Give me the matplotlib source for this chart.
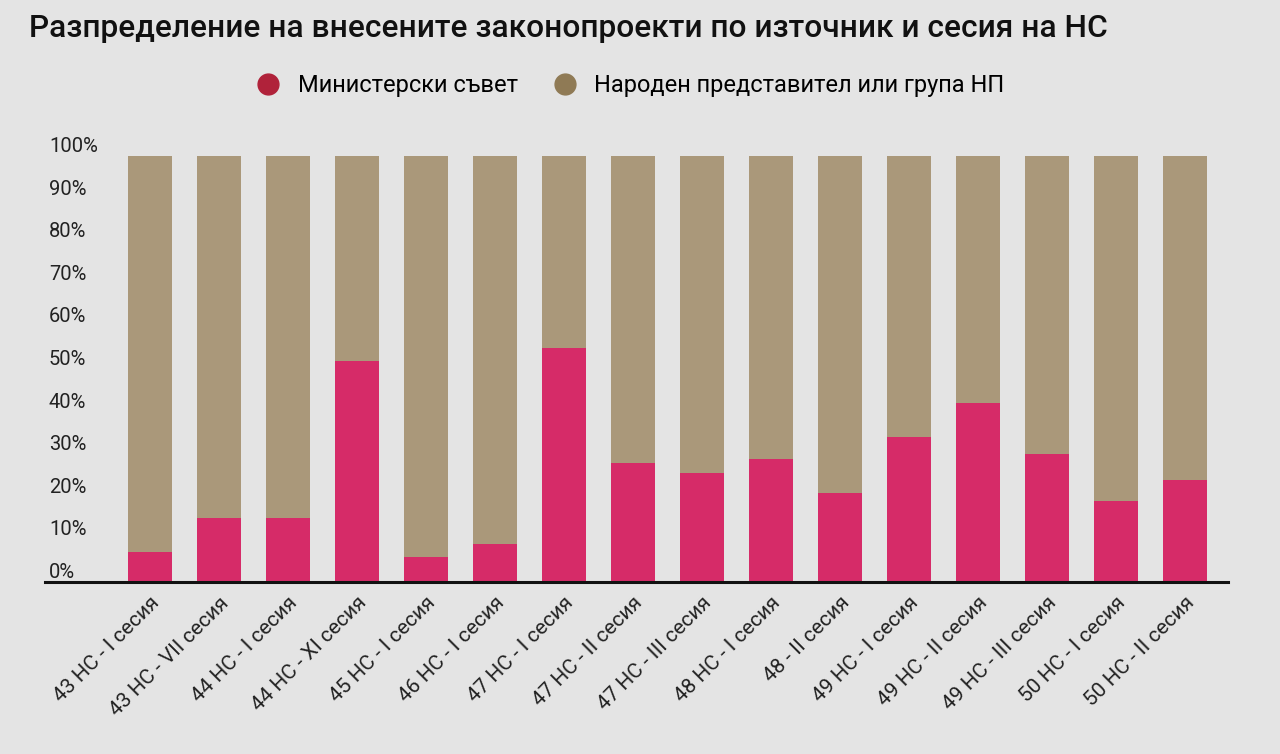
import matplotlib
matplotlib.use("Agg")
import matplotlib.pyplot as plt
from matplotlib.lines import Line2D
import numpy as np

plt.rcParams["font.family"] = ["Roboto", "DejaVu Sans"]

SESSIONS = ["43 НС - I сесия", "43 НС - VII сесия", "44 НС - I сесия", "44 НС - XI сесия",
            "45 НС - I сесия", "46 НС - I сесия", "47 НС - I сесия", "47 НС - II сесия",
            "47 НС - III сесия", "48 НС - I сесия", "48 - II сесия", "49 НС - I сесия",
            "49 НС - II сесия", "49 НС - III сесия", "50 НС - I сесия", "50 НС - II сесия"]
# share of bills from the Council of Ministers (%)
MINISTERS = [7, 15, 15, 52, 6, 9, 55, 28, 25.5, 29, 21, 34, 42, 30, 19, 24]
MP = [100 - v for v in MINISTERS]

SERIES_NAMES = ["Министерски съвет", "Народен представител или група НП"]
COLORS = ["#d62b68", "#aa987a"]
LEGEND_COLORS = ["#b0223a", "#8f7a55"]
BG = "#e4e4e4"

fig = plt.figure(figsize=(12.8, 7.54), dpi=100, facecolor=BG)
ax = fig.add_axes([0.035, 0.228, 0.924, 0.565], facecolor=BG)

x = np.arange(len(SESSIONS))
ax.bar(x, MINISTERS, 0.64, color=COLORS[0], zorder=2)
ax.bar(x, MP, 0.64, bottom=MINISTERS, color=COLORS[1], zorder=2)

ax.set_xlim(-1.52, len(SESSIONS) - 0.38)
ax.set_ylim(0, 100)
ax.set_yticks(np.arange(0, 101, 10))
ax.set_yticklabels([f"{v}%" for v in range(0, 101, 10)], fontsize=14.5, color="#222")
for lbl in ax.get_yticklabels():
    lbl.set_horizontalalignment("left")
    lbl.set_verticalalignment("bottom")
ax.tick_params(axis="y", length=0, pad=-3)

ax.set_xticks(x)
ax.set_xticklabels(SESSIONS, rotation=45, ha="right", rotation_mode="anchor",
                   fontsize=15, color="#222")
ax.tick_params(axis="x", length=0, pad=8)

for s in ["top", "right", "left"]:
    ax.spines[s].set_visible(False)
ax.spines["bottom"].set_linewidth(2.2)
ax.spines["bottom"].set_color("#111")
ax.spines["bottom"].set_zorder(3)

fig.text(0.023, 0.962, "Разпределение на внесените законопроекти по източник и сесия на НС",
         fontsize=22.8, fontweight="medium", color="#111", ha="left", va="center")

handles = [Line2D([0], [0], marker="o", linestyle="", markersize=15,
                  markerfacecolor=c, markeredgecolor=c) for c in LEGEND_COLORS]
fig.legend(handles, SERIES_NAMES, loc="center", bbox_to_anchor=(0.488, 0.886), ncol=2,
           frameon=False, fontsize=17, handletextpad=0.25, columnspacing=1.0)

fig.savefig("out.png", dpi=100, facecolor=BG)
